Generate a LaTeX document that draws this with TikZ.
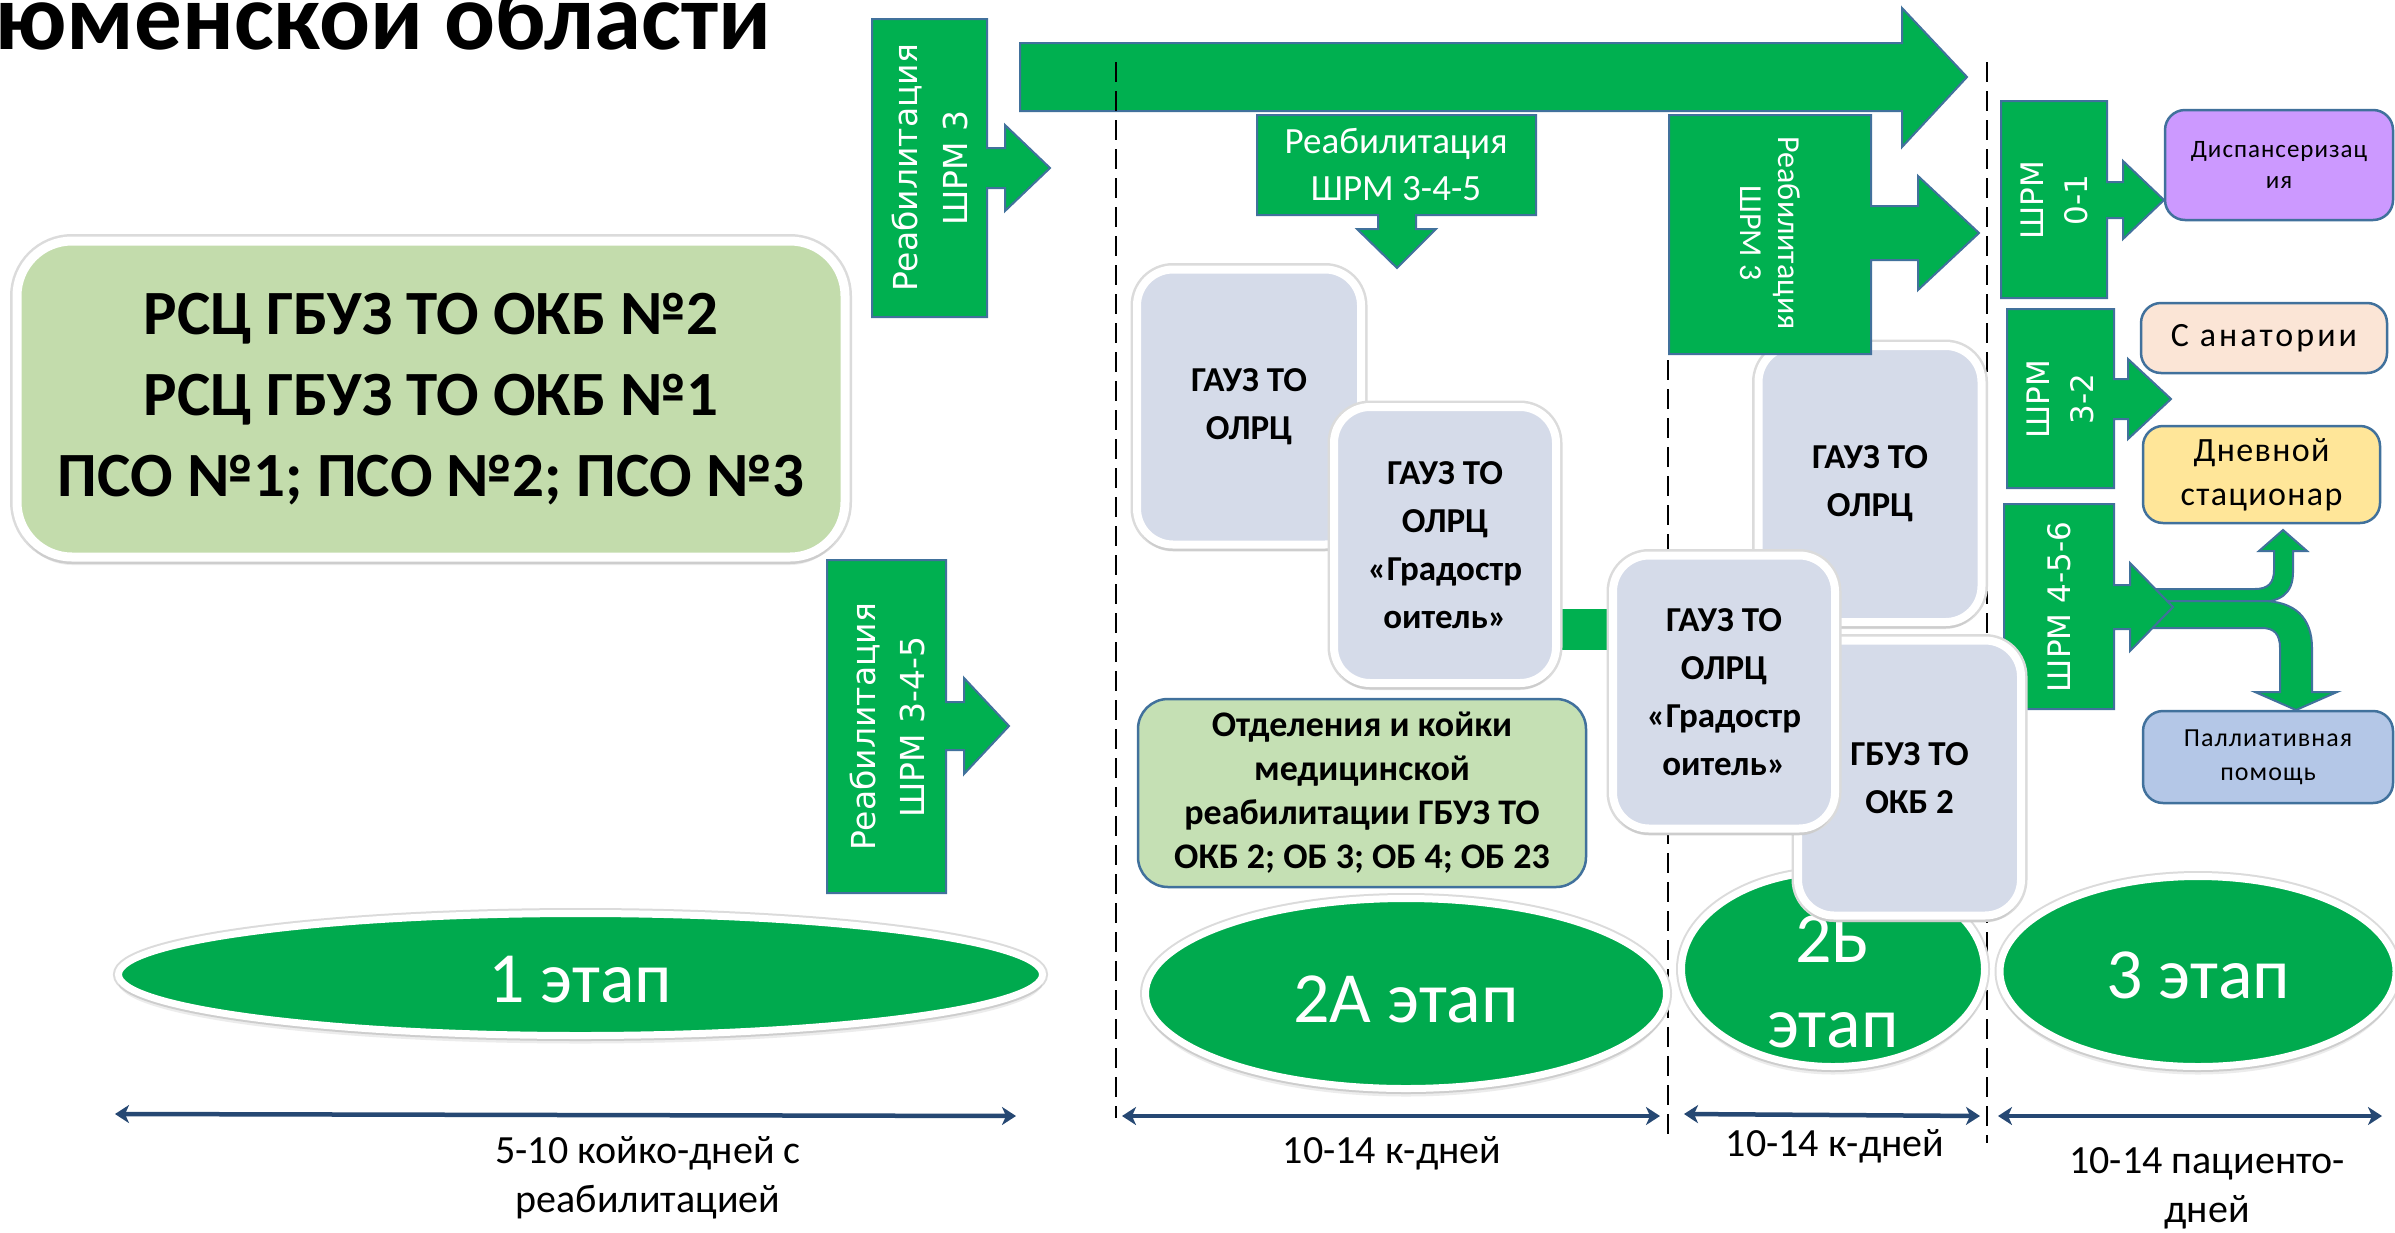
\documentclass[tikz,border=0pt]{standalone}
\usepackage{fontspec}
\setmainfont{Carlito}
\newfontfamily\dvs{DejaVu Sans}
\newfontfamily\spc[LetterSpace=4]{Carlito}
\newfontfamily\spcw[LetterSpace=9]{Carlito}
\usetikzlibrary{arrows.meta,shapes.geometric,shadows}
\pgfdeclarelayer{bg}
\pgfdeclarelayer{back}
\pgfsetlayers{bg,back,main}
\definecolor{sgreen}{RGB}{0,176,80}
\definecolor{egreen}{RGB}{0,170,78}
\definecolor{oline}{RGB}{65,113,156}
\definecolor{boxblue}{RGB}{213,219,233}
\definecolor{lgreen}{RGB}{197,224,180}
\definecolor{mgreen}{RGB}{195,220,172}
\definecolor{purp}{RGB}{204,153,255}
\definecolor{peach}{RGB}{251,229,214}
\definecolor{yell}{RGB}{255,230,153}
\definecolor{lblue}{RGB}{180,199,231}
\definecolor{darrow}{RGB}{38,72,115}
\newcommand\fsz[2]{\fontsize{#1}{#2}\selectfont}
\newcommand\rcall[9]{\draw[callout] (#1,#2) -- (#3,#2) -- (#3,#7-#8) -- (#5,#7-#8) -- (#5,#7-#9) -- (#6,#7) -- (#5,#7+#9) -- (#5,#7+#8) -- (#3,#7+#8) -- (#3,#4) -- (#1,#4) -- cycle;}
\begin{document}
\begin{tikzpicture}[x=1pt,y=-1pt,
  callout/.style={fill=sgreen, draw=oline, line width=2pt, line join=miter},
  vtext/.style={text=white, align=center, inner sep=0pt},
  vdash/.style={draw=black, line width=2.5pt, dash pattern=on 20pt off 9pt},
  dimarrow/.style={draw=darrow, line width=4.5pt, {Stealth[length=14pt,width=18pt,inset=4pt]}-{Stealth[length=14pt,width=18pt,inset=4pt]}},
  lab/.style={align=center, inner sep=0pt, font=\fsz{40}{49}},
  gbox/.style={rectangle, rounded corners=36pt, fill=boxblue, draw=white, line width=8pt,
     preaction={draw=black!14, line width=13pt},
     drop shadow={shadow xshift=0pt, shadow yshift=-7pt, opacity=0.15},
     inner sep=0pt, align=center, font=\bfseries\fsz{35}{48}},
  mainbox/.style={rectangle, rounded corners=55pt, fill=mgreen, draw=white, line width=9pt,
     preaction={draw=black!14, line width=14pt},
     drop shadow={shadow xshift=0pt, shadow yshift=-8pt, opacity=0.15},
     inner sep=0pt, align=center, font=\bfseries\fsz{63}{81}},
  stage/.style={ellipse, fill=egreen, draw=white, line width=7pt, inner sep=0pt,
     preaction={draw=black!14, line width=11pt},
     drop shadow={shadow xshift=0pt, shadow yshift=-8pt, opacity=0.15}},
  stagetext/.style={text=white, align=center, inner sep=0pt, font=\fsz{72}{85}},
  rbox/.style={rectangle, rounded corners=20pt, draw=oline, line width=2.5pt, inner sep=0pt, align=center},
  otdbox/.style={rectangle, rounded corners=30pt, fill=lgreen, draw=oline, line width=2.5pt, inner sep=0pt, align=center, font=\bfseries\fsz{36}{44}}
]
\useasboundingbox (0,0) rectangle (2395,1232);
\begin{pgfonlayer}{bg}
\fill[white] (0,0) rectangle (2395,1232);
\end{pgfonlayer}

% title
\node[anchor=base west, inner sep=0pt, font=\bfseries\fsz{95}{110}] (title) at (-5,49) {юменской области};

% big top arrow
\draw[callout] (1020,43) -- (1902,43) -- (1902,8) -- (1967,77) -- (1902,147) -- (1902,111) -- (1020,111) -- cycle;

% dashed separators
\coordinate (v1t) at (1116,62); \coordinate (v1b) at (1116,1118);
\coordinate (v2t) at (1668,360); \coordinate (v2b) at (1668,1142);
\coordinate (v3t) at (1987,62); \coordinate (v3b) at (1987,1143);
\draw[vdash] (v1t) -- (v1b);
\draw[vdash] (v2t) -- (v2b);
\draw[vdash] (v3t) -- (v3b);

% main box
\node[mainbox, minimum width=828pt, minimum height=316pt] (rsc) at (431,399)
  {РСЦ ГБУЗ ТО ОКБ №2\\РСЦ ГБУЗ ТО ОКБ №1\\ПСО №1; ПСО №2; ПСО №3};

% left callouts
\rcall{872}{19}{987}{317}{1005}{1050}{168}{20}{43}
\node[vtext, rotate=90, font=\dvs\fsz{33}{50}] (r1) at (930,168) {Реабилитация\\ШРМ 3};
\rcall{827}{560}{946}{893}{964}{1009}{726}{24}{48}
\node[vtext, rotate=90, font=\dvs\fsz{33}{49}] (r2) at (887,727) {Реабилитация\\ШРМ 3-4-5};

% top centre down callout
\draw[callout] (1257,115) -- (1536,115) -- (1536,215) -- (1416,215) -- (1416,229) -- (1436,229) -- (1397,268) -- (1357,229) -- (1378,229) -- (1378,215) -- (1257,215) -- cycle;
\node[vtext, font=\fsz{37}{47}] (r3) at (1396,165) {Реабилитация\\ШРМ 3-4-5};

% stages
\node[stage, minimum width=924pt, minimum height=122pt] (e1) at (580.5,974.5) {};
\node[stagetext] (t1) at (580,979.5) {1 этап};
\node[stage, minimum width=521pt, minimum height=190pt] (e2) at (1406,993.5) {};
\node[stagetext] (t2) at (1406,999.5) {2А этап};
\node[stage, minimum width=303pt, minimum height=195pt] (e3) at (1833,969) {};
\node[stagetext] (t3) at (1833,982) {2Б\\этап};
\node[stage, minimum width=396pt, minimum height=190pt] (e4) at (2198,971.5) {};
\node[stagetext] (t4) at (2198,975) {3 этап};

% duration arrows
\coordinate (d1a) at (115,1114); \coordinate (d1b) at (1016,1116);
\coordinate (d2a) at (1122,1116); \coordinate (d2b) at (1660,1116);
\coordinate (d3a) at (1684,1114); \coordinate (d3b) at (1980,1116);
\coordinate (d4a) at (1998,1116); \coordinate (d4b) at (2382,1116);
\draw[dimarrow] (d1a) -- (d1b);
\draw[dimarrow] (d2a) -- (d2b);
\draw[dimarrow] (d3a) -- (d3b);
\draw[dimarrow] (d4a) -- (d4b);
\node[lab] (l1) at (648,1178) {5-10 койко-дней с\\реабилитацией};
\node[lab] (l2) at (1392,1153) {10-14 к-дней};
\node[lab] (l3) at (1835,1146) {10-14 к-дней};
\node[lab] (l4) at (2207,1188) {10-14 пациенто-\\дней};

% 2A boxes
\node[gbox, minimum width=224pt, minimum height=275pt] (b1) at (1249,407) {ГАУЗ ТО\\ОЛРЦ};
\node[gbox, minimum width=222pt, minimum height=276pt] (b2) at (1445,545) {ГАУЗ ТО\\ОЛРЦ\\«Градостр\\оитель»};
\node[otdbox, minimum width=448pt, minimum height=188pt] (otd) at (1362,793)
  {Отделения и койки\\медицинской\\реабилитации ГБУЗ ТО\\ОКБ 2; ОБ 3; ОБ 4; ОБ 23};

% right column
\draw[callout] (2150,589) -- (2255,589) .. controls (2268,589) and (2274,583) .. (2274,570) -- (2274,551) -- (2259,551) -- (2283,530) -- (2307,551) -- (2293,551) -- (2293,572) .. controls (2293,594) and (2280,602) .. (2258,602) -- (2150,602) -- cycle;
\draw[callout] (2150,601) -- (2262,601) .. controls (2295,601) and (2312,618) .. (2312,648) -- (2312,692) -- (2337,692) -- (2296,710) -- (2255,692) -- (2280,692) -- (2280,648) .. controls (2280,634) and (2274,628) .. (2262,628) -- (2150,628) -- cycle;

\rcall{2001}{101}{2107}{298}{2123}{2164}{200}{18}{39}
\node[vtext, rotate=90, font=\dvs\fsz{31}{44}] (s1) at (2054,200) {ШРМ\\0-1};
\rcall{2007}{309}{2114}{488}{2128}{2171}{399}{20}{40}
\node[vtext, rotate=90, font=\dvs\fsz{31}{44}] (s2) at (2060,399) {ШРМ\\3-2};
\rcall{2004}{504}{2114}{709}{2130}{2173}{607}{22}{44}
\node[vtext, rotate=90, font=\dvs\fsz{31}{44}] (s3) at (2059,607) {ШРМ 4-5-6};

\node[rbox, fill=purp, minimum width=228pt, minimum height=110pt, font=\spc\fsz{25}{31}] (disp) at (2279,165) {Диспансеризац\\ия};
\node[rbox, fill=peach, minimum width=246pt, minimum height=70pt, font=\spcw\fsz{34}{38}] (san) at (2264,338) {С анатории};
\node[rbox, fill=yell, minimum width=237pt, minimum height=97pt, font=\spc\fsz{34}{44}] (day) at (2261.5,474.5) {Дневной\\стационар};
\node[rbox, fill=lblue, minimum width=250pt, minimum height=92pt, font=\spc\fsz{26}{34}] (pal) at (2268,757) {Паллиативная\\помощь};

% 2B boxes
\node[gbox, minimum width=223pt, minimum height=276pt] (b3) at (1870,484) {ГАУЗ ТО\\ОЛРЦ};
\rcall{1669}{115}{1871}{354}{1918}{1979}{233}{27}{57}
\node[vtext, rotate=-90, font=\fsz{32}{38}] (r4) at (1770,233) {Реабилитация\\ШРМ 3};
\node[gbox, minimum width=223pt, minimum height=275pt] (b5) at (1909.5,778) {ГБУЗ ТО\\ОКБ 2};
\node[gbox, minimum width=222pt, minimum height=273pt] (b4) at (1724,692) {ГАУЗ ТО\\ОЛРЦ\\«Градостр\\оитель»};

% connector bar between the two «Градостроитель» boxes
\coordinate (barY) at (0,629.5);
\begin{pgfonlayer}{back}
\draw[sgreen, line width=41pt] (b2.east |- barY) -- (b4.west |- barY);
\end{pgfonlayer}
\end{tikzpicture}
\end{document}
